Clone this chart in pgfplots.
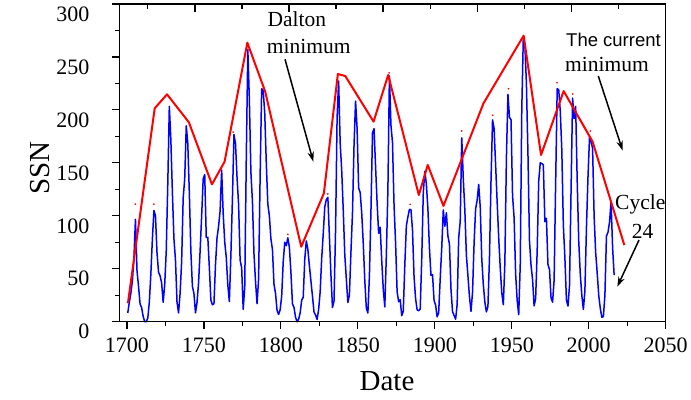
\documentclass[border=0pt]{standalone}
\usepackage{pgfplots}
\pgfplotsset{compat=1.18}
\usepackage{pgfplotstable}
\usepackage{fontspec}
\setmainfont{Liberation Serif}
\newfontfamily\arialfont{Liberation Sans}
\usetikzlibrary{arrows.meta}

\pgfplotstableread{
year ssn
1700.5 8.3
1701.5 18.3
1702.5 26.7
1703.5 38.3
1704.5 60.0
1705.5 96.7
1706.5 48.3
1707.5 33.3
1708.5 16.7
1709.5 13.3
1710.5 5.0
1711.5 0.0
1712.5 0.0
1713.5 3.3
1714.5 18.3
1715.5 45.0
1716.5 78.3
1717.5 105.0
1718.5 100.0
1719.5 65.0
1720.5 46.7
1721.5 43.3
1722.5 36.7
1723.5 18.3
1724.5 35.0
1725.5 66.7
1726.5 130.0
1727.5 203.3
1728.5 171.7
1729.5 121.7
1730.5 78.3
1731.5 58.3
1732.5 18.3
1733.5 8.3
1734.5 26.7
1735.5 56.7
1736.5 116.7
1737.5 135.0
1738.5 185.0
1739.5 168.3
1740.5 121.7
1741.5 66.7
1742.5 33.3
1743.5 26.7
1744.5 8.3
1745.5 18.3
1746.5 36.7
1747.5 66.7
1748.5 100.0
1749.5 134.8
1750.5 139.0
1751.5 79.5
1752.5 79.7
1753.5 51.2
1754.5 20.3
1755.5 16.0
1756.5 17.0
1757.5 54.0
1758.5 79.3
1759.5 90.0
1760.5 104.8
1761.5 143.2
1762.5 102.0
1763.5 75.2
1764.5 60.7
1765.5 34.8
1766.5 19.0
1767.5 63.0
1768.5 116.3
1769.5 176.8
1770.5 168.0
1771.5 136.0
1772.5 110.8
1773.5 58.0
1774.5 51.0
1775.5 11.7
1776.5 33.0
1777.5 154.2
1778.5 257.3
1779.5 209.8
1780.5 141.3
1781.5 113.5
1782.5 64.2
1783.5 38.0
1784.5 17.0
1785.5 40.2
1786.5 138.2
1787.5 220.0
1788.5 218.2
1789.5 196.8
1790.5 149.8
1791.5 111.0
1792.5 100.0
1793.5 78.2
1794.5 68.3
1795.5 35.5
1796.5 26.7
1797.5 10.7
1798.5 6.8
1799.5 11.3
1800.5 24.2
1801.5 56.7
1802.5 75.0
1803.5 71.8
1804.5 79.2
1805.5 70.3
1806.5 46.8
1807.5 16.8
1808.5 13.5
1809.5 4.2
1810.5 0.0
1811.5 2.3
1812.5 8.3
1813.5 20.3
1814.5 23.2
1815.5 59.0
1816.5 76.3
1817.5 68.3
1818.5 52.9
1819.5 38.5
1820.5 24.2
1821.5 9.2
1822.5 6.3
1823.5 2.2
1824.5 11.4
1825.5 28.2
1826.5 59.9
1827.5 83.0
1828.5 108.5
1829.5 115.2
1830.5 117.4
1831.5 80.8
1832.5 44.3
1833.5 13.4
1834.5 19.5
1835.5 85.8
1836.5 192.7
1837.5 227.3
1838.5 168.7
1839.5 143.0
1840.5 105.5
1841.5 63.3
1842.5 40.3
1843.5 18.1
1844.5 25.1
1845.5 65.8
1846.5 102.7
1847.5 166.3
1848.5 208.3
1849.5 182.5
1850.5 126.3
1851.5 122.0
1852.5 102.7
1853.5 74.1
1854.5 39.0
1855.5 12.7
1856.5 8.2
1857.5 43.4
1858.5 104.4
1859.5 178.3
1860.5 182.2
1861.5 146.6
1862.5 112.1
1863.5 83.5
1864.5 89.2
1865.5 57.8
1866.5 30.7
1867.5 13.9
1868.5 62.8
1869.5 123.6
1870.5 232.0
1871.5 185.3
1872.5 169.2
1873.5 110.1
1874.5 74.5
1875.5 28.3
1876.5 18.9
1877.5 20.7
1878.5 5.7
1879.5 10.0
1880.5 53.7
1881.5 90.5
1882.5 99.0
1883.5 106.1
1884.5 105.8
1885.5 86.3
1886.5 42.4
1887.5 21.8
1888.5 11.2
1889.5 10.4
1890.5 11.8
1891.5 59.5
1892.5 121.7
1893.5 142.0
1894.5 130.0
1895.5 106.6
1896.5 69.4
1897.5 43.8
1898.5 44.4
1899.5 20.2
1900.5 15.7
1901.5 4.6
1902.5 8.5
1903.5 40.8
1904.5 70.1
1905.5 105.5
1906.5 90.1
1907.5 102.8
1908.5 80.9
1909.5 73.2
1910.5 30.9
1911.5 9.5
1912.5 6.0
1913.5 2.4
1914.5 16.1
1915.5 79.0
1916.5 95.0
1917.5 173.6
1918.5 134.6
1919.5 105.7
1920.5 62.7
1921.5 43.5
1922.5 23.7
1923.5 9.7
1924.5 27.9
1925.5 74.0
1926.5 106.5
1927.5 114.7
1928.5 129.7
1929.5 108.2
1930.5 59.4
1931.5 35.1
1932.5 18.6
1933.5 9.2
1934.5 14.6
1935.5 60.2
1936.5 132.8
1937.5 190.6
1938.5 182.6
1939.5 148.0
1940.5 113.0
1941.5 79.2
1942.5 50.8
1943.5 27.1
1944.5 16.1
1945.5 55.3
1946.5 154.3
1947.5 214.7
1948.5 193.0
1949.5 190.7
1950.5 118.9
1951.5 98.3
1952.5 45.0
1953.5 20.1
1954.5 6.6
1955.5 54.2
1956.5 200.7
1957.5 269.3
1958.5 261.7
1959.5 225.1
1960.5 159.0
1961.5 76.4
1962.5 53.4
1963.5 39.9
1964.5 15.0
1965.5 22.0
1966.5 66.8
1967.5 132.9
1968.5 150.0
1969.5 149.4
1970.5 148.0
1971.5 94.4
1972.5 97.6
1973.5 54.1
1974.5 49.2
1975.5 22.5
1976.5 18.4
1977.5 39.3
1978.5 131.0
1979.5 220.1
1980.5 218.9
1981.5 198.9
1982.5 162.4
1983.5 91.0
1984.5 60.5
1985.5 20.6
1986.5 14.8
1987.5 33.9
1988.5 123.0
1989.5 211.1
1990.5 191.8
1991.5 203.3
1992.5 133.0
1993.5 76.1
1994.5 44.9
1995.5 25.1
1996.5 11.6
1997.5 28.9
1998.5 88.3
1999.5 136.3
2000.5 173.9
2001.5 170.4
2002.5 163.6
2003.5 99.3
2004.5 65.3
2005.5 45.8
2006.5 24.7
2007.5 12.6
2008.5 4.2
2009.5 4.8
2010.5 24.9
2011.5 80.8
2012.5 84.5
2013.5 94.0
2014.5 113.3
2015.5 69.8
2016.5 44.0
}\ssndata

\pgfplotstableread{
year env
1700.6 17.4
1718.0 201.5
1726.0 214.7
1740.2 188.3
1755.2 129.7
1763.4 151.1
1778.2 263.5
1789.8 217.2
1813.2 70.8
1827.9 121.2
1837.0 233.9
1841.8 232.0
1860.2 188.9
1869.7 233.0
1889.6 119.6
1895.4 148.0
1905.6 109.3
1931.6 206.2
1957.7 270.1
1969.0 157.4
1983.7 217.8
2002.5 170.0
2023.1 72.4
}\envdata

\pgfplotstableread{
year pk
1705.4 111
1717.5 111
1769.0 179
1804.5 82.5
1830.5 120.6
1870.3 235
1884.0 110.8
1917.5 180
1937.6 195
1947.8 220
1979.4 225.7
1989.6 215
2001.0 180
}\peakdata

\begin{document}
\begin{tikzpicture}
\begin{axis}[
  at={(0,0)}, anchor=south west,
  scale only axis,
  width=546.4bp, height=317.7bp,
  xmin=1695, xmax=2050, ymin=0, ymax=300,
  xtick={1700,1750,...,2050},
  minor xtick={1725,1775,...,2025},
  ytick={0,50,...,300},
  minor ytick={25,75,...,275},
  xtick pos=bottom, ytick pos=left,
  tick align=outside,
  major tick length=7.5bp, minor tick length=4bp,
  axis line style={line width=1.3bp},
  tick style={black, line width=1.1bp},
  /pgf/number format/assume math mode=true,
  /pgf/number format/1000 sep={},
  ticklabel style={font=\fontsize{22bp}{24bp}\selectfont},
  yticklabel style={yshift=-10bp, xshift=-19bp},
  xticklabel style={yshift=-5bp},
  xlabel={Date},
  ylabel={SSN},
  xlabel style={at={(axis description cs:0.49,-0.218)}, anchor=base, font=\fontsize{29bp}{32bp}\selectfont},
  ylabel style={at={(axis description cs:-0.127,0.484)}, anchor=base, font=\fontsize{29bp}{32bp}\selectfont},
  clip=false,
]
\addplot[blue, line width=1.5bp, line join=round] table[x=year, y=ssn] {\ssndata};
\addplot[red, line width=2bp, line join=round] table[x=year, y=env] {\envdata};
\addplot[only marks, red, mark=*, mark size=0.6bp] table[x=year, y=pk] {\peakdata};
\end{axis}
\begin{axis}[
  at={(0,0)}, anchor=south west,
  scale only axis,
  width=546.4bp, height=317.7bp,
  xmin=1695, xmax=2050, ymin=0, ymax=300,
  xtick pos=top, ytick pos=right,
  tick align=inside,
  xtick={1744.15,1805.25,1866.35,1927.45,1988.55},
  minor xtick={1713.6,1774.7,1835.8,1896.9,1958.0,2019.1},
  ytick=\empty,
  minor ytick={25,50,...,275},
  xticklabel=\empty,
  major tick length=7.7bp, minor tick length=4.5bp,
  axis line style={line width=1.3bp},
  tick style={black, line width=1.1bp},
]
\end{axis}
% annotations
\node[anchor=base west, inner sep=0pt, font=\fontsize{21.5bp}{24bp}\selectfont] at (148bp,295bp) {Dalton};
\node[anchor=base west, inner sep=0pt, font=\fontsize{21.5bp}{24bp}\selectfont] at (147.4bp,267.7bp) {minimum};
\node[anchor=base west, inner sep=0pt, font=\arialfont\fontsize{18.5bp}{21bp}\selectfont] at (446.7bp,275bp) {The current};
\node[anchor=base west, inner sep=0pt, font=\fontsize{21.5bp}{24bp}\selectfont] at (445.7bp,250bp) {minimum};
\node[anchor=base west, inner sep=0pt, font=\fontsize{21.5bp}{24bp}\selectfont] at (495.7bp,111.7bp) {Cycle};
\node[anchor=base west, inner sep=0pt, font=\fontsize{21.5bp}{24bp}\selectfont] at (512.4bp,83.4bp) {24};
\draw[black, line width=1.5bp, -{Stealth[length=10bp,width=6.5bp]}] (165.7bp,262.4bp) -- (194bp,160bp);
\draw[black, line width=1.5bp, -{Stealth[length=10bp,width=6.5bp]}] (479bp,245.7bp) -- (503.4bp,171bp);
\draw[black, line width=1.5bp, -{Stealth[length=10bp,width=6.5bp]}] (519.7bp,81.7bp) -- (498bp,35bp);
\pgfresetboundingbox
\path[use as bounding box] (-119.3bp,-78.3bp) rectangle (571.7bp,321.7bp);
\end{tikzpicture}
\end{document}
